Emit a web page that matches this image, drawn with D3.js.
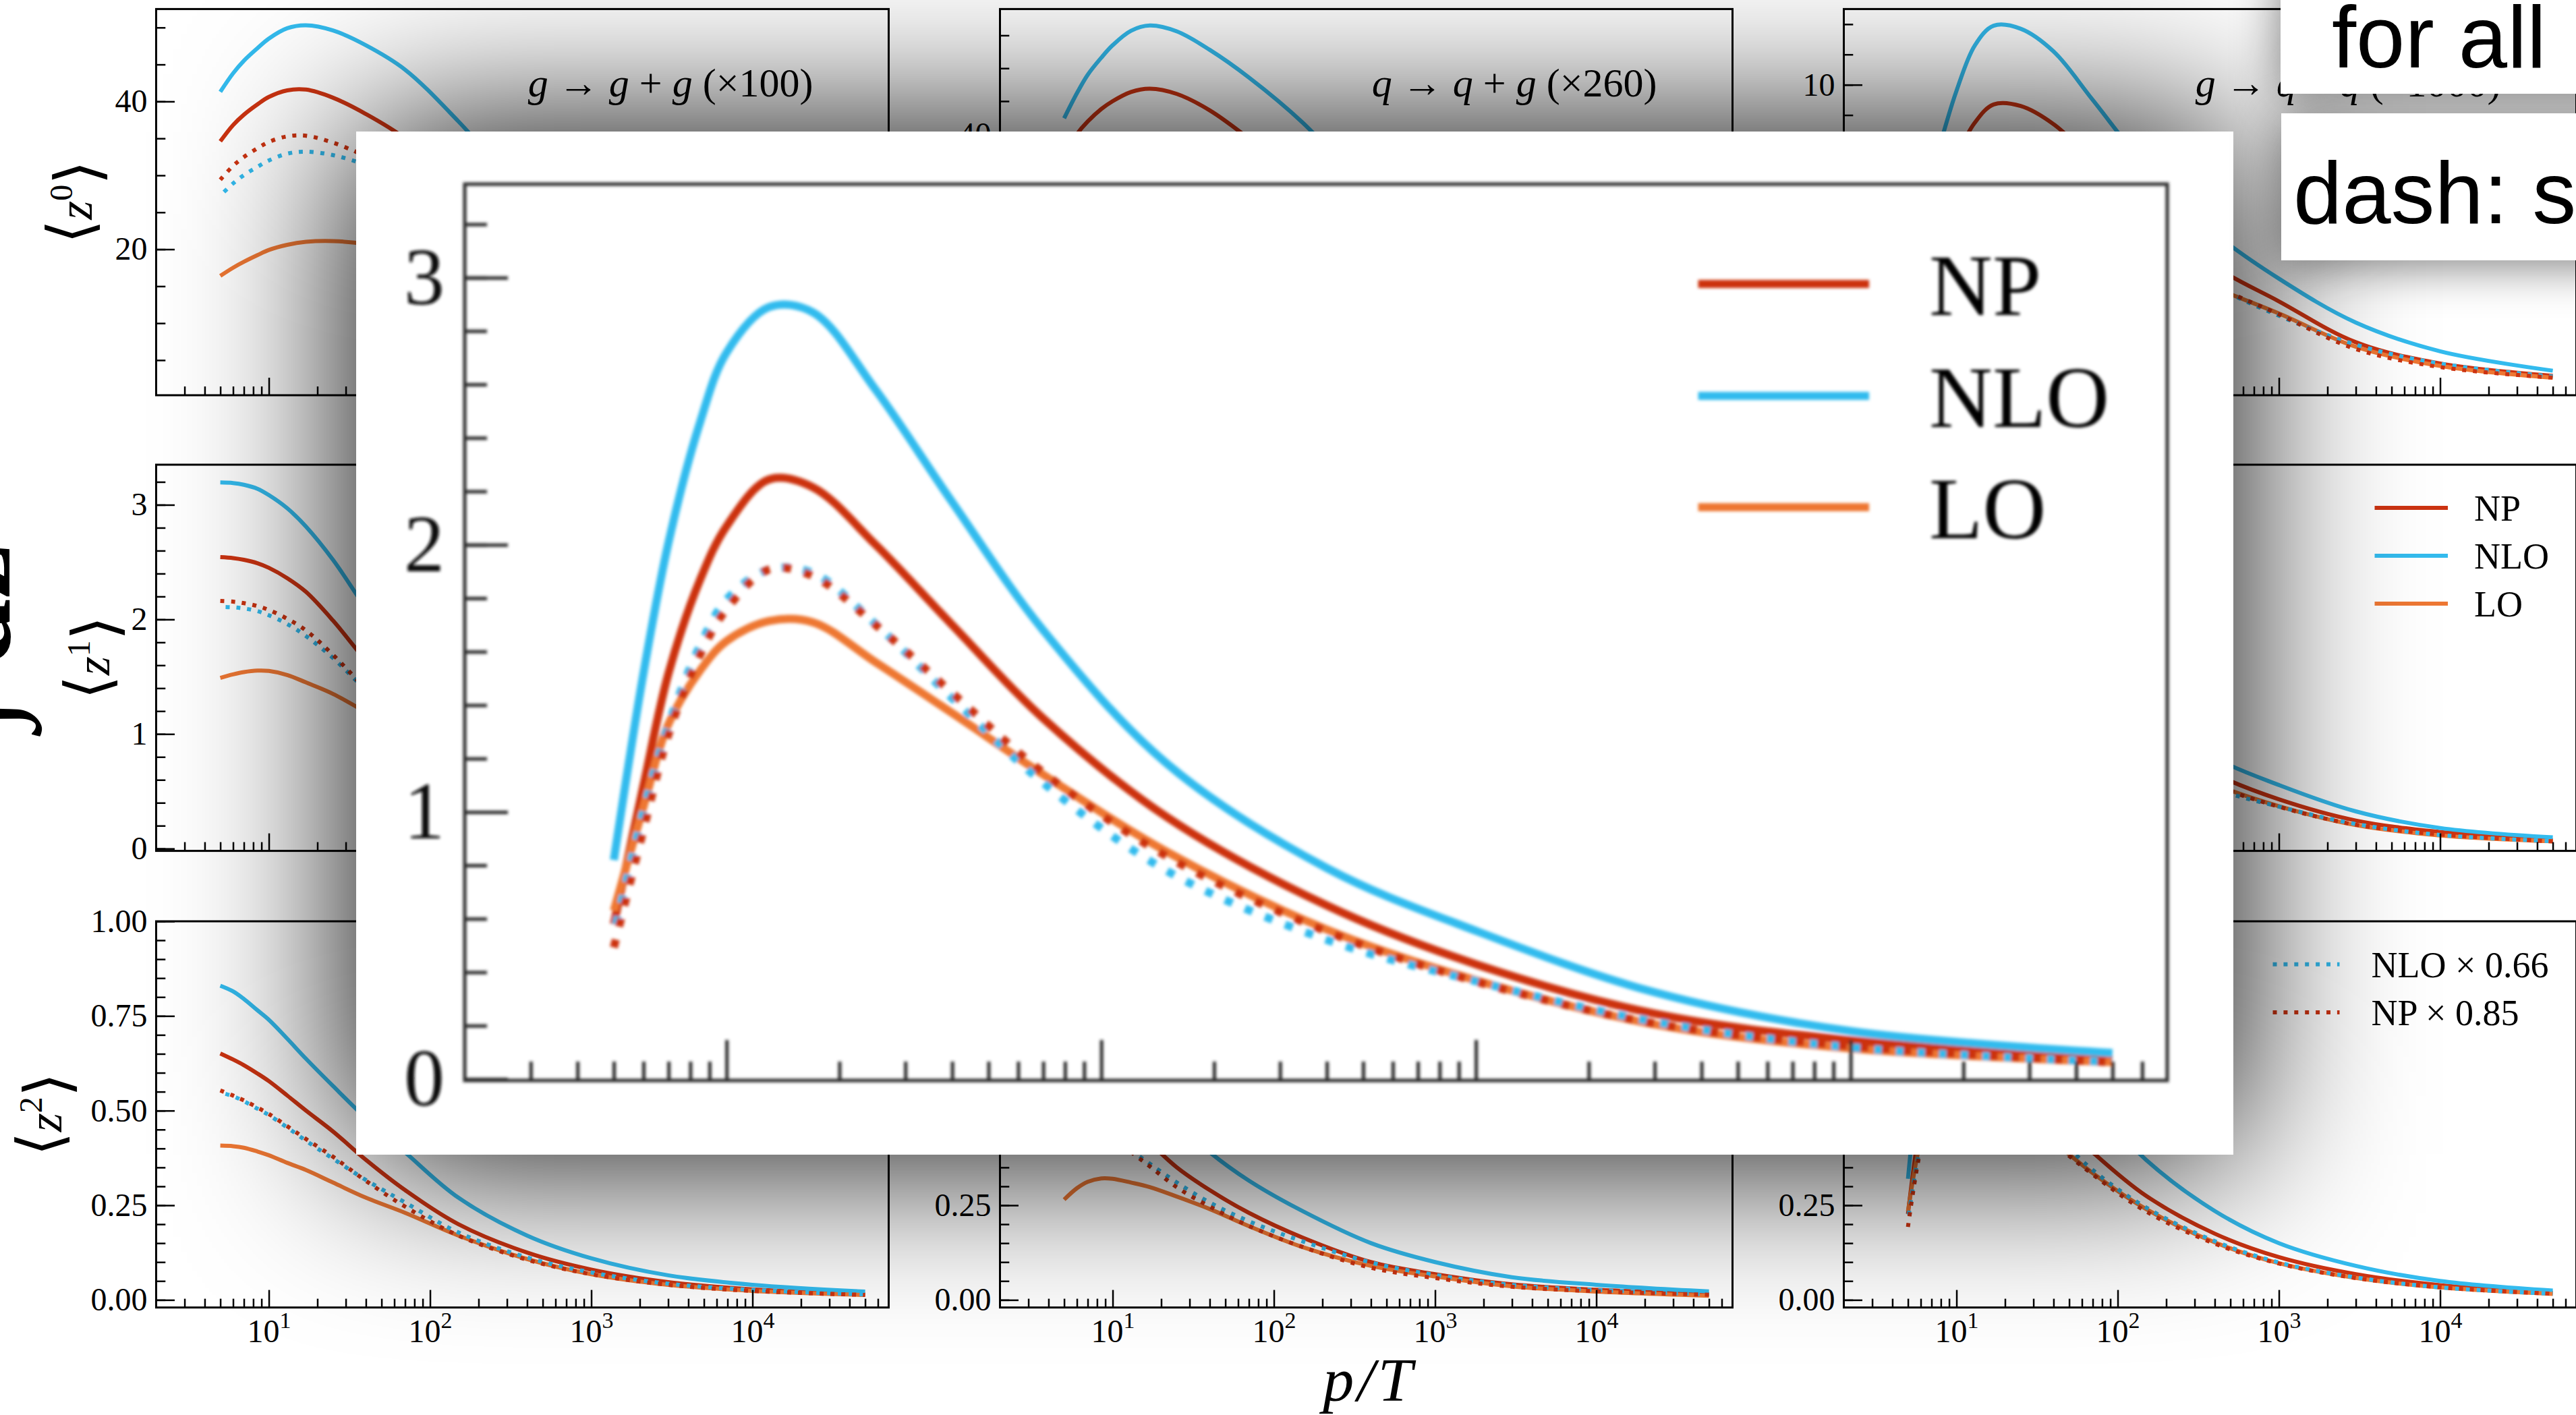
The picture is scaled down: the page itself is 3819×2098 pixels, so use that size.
<!DOCTYPE html>
<html lang="en">
<head>
<meta charset="utf-8">
<title>Splitting moments vs p/T</title>
<script src="https://cdn.jsdelivr.net/npm/d3@7"></script>
<style>
  html, body { margin: 0; padding: 0; background: #fff; }
  svg { display: block; }
  text { white-space: pre; }
</style>
</head>
<body>
<div id="chart"></div>
<script>

// momentum grid shared by every curve (p/T)
var pT = [5, 6, 7, 8.5, 10, 13, 17, 25, 40, 70, 150, 400, 1000, 3000, 10000, 50000];

// <z^0>
var gg_z0_np  = [34.6, 36.8, 38.2, 39.6, 40.6, 41.5, 41.6, 40.5, 38.3, 35.0, 28.5, 19.5, 13.5, 7.8, 4.2, 1.45];
var gg_z0_nlo = [41.3, 43.8, 45.5, 47.2, 48.5, 49.9, 50.3, 49.6, 47.6, 44.3, 37.3, 27.0, 19.0, 11.0, 5.8, 1.9];
var gg_z0_lo  = [16.4, 17.5, 18.3, 19.2, 19.9, 20.6, 21.0, 21.1, 20.7, 19.6, 17.2, 13.2, 9.9, 6.1, 3.4, 1.25];
var qg_z0_np  = [37.0, 40.0, 41.9, 43.8, 45.0, 46.4, 46.9, 46.1, 43.6, 39.3, 32.5, 23.5, 17.0, 10.0, 5.4, 1.9];
var qg_z0_nlo = [42.4, 46.2, 49.0, 51.6, 53.5, 55.7, 56.5, 55.6, 52.8, 48.6, 41.8, 31.0, 22.5, 13.5, 7.2, 2.5];
var qg_z0_lo  = [20.0, 22.0, 23.2, 24.2, 24.8, 25.3, 25.4, 25.0, 24.0, 22.3, 19.5, 15.0, 11.3, 7.0, 3.9, 1.6];
var qq_z0_np  = [2.3, 3.8, 5.0, 6.5, 7.6, 8.75, 9.35, 9.3, 8.7, 7.5, 5.8, 4.0, 2.85, 1.5, 0.8, 0.39];
var qq_z0_nlo = [3.7, 5.6, 7.0, 8.6, 9.8, 11.3, 11.95, 11.85, 11.1, 9.5, 7.3, 5.1, 3.6, 2.15, 1.2, 0.56];
var qq_z0_lo  = [1.8, 2.9, 3.7, 4.6, 5.2, 5.8, 6.1, 6.1, 5.8, 5.2, 4.3, 3.3, 2.45, 1.35, 0.72, 0.33];

// <z^1>
var gg_z1_np  = [2.543, 2.535, 2.52, 2.49, 2.45, 2.36, 2.24, 1.99, 1.64, 1.26, 0.86, 0.54, 0.34, 0.2, 0.115, 0.06];
var gg_z1_nlo = [3.195, 3.19, 3.175, 3.14, 3.085, 2.97, 2.81, 2.52, 2.1, 1.65, 1.12, 0.66, 0.43, 0.26, 0.15, 0.08];
var gg_z1_lo  = [1.49, 1.52, 1.54, 1.553, 1.55, 1.515, 1.45, 1.35, 1.19, 0.98, 0.72, 0.46, 0.3, 0.18, 0.1, 0.05];
var qg_z1_np  = [2.4, 2.39, 2.37, 2.33, 2.28, 2.18, 2.05, 1.84, 1.55, 1.24, 0.9, 0.55, 0.37, 0.21, 0.12, 0.06];
var qg_z1_nlo = [3.05, 3.03, 3.0, 2.95, 2.89, 2.77, 2.6, 2.32, 1.95, 1.58, 1.13, 0.7, 0.47, 0.28, 0.16, 0.08];
var qg_z1_lo  = [1.15, 1.25, 1.31, 1.35, 1.36, 1.34, 1.3, 1.2, 1.05, 0.88, 0.66, 0.43, 0.3, 0.18, 0.1, 0.05];
var qq_z1_np  = [0.58, 1.10, 1.52, 1.87, 2.07, 2.245, 2.215, 2.0, 1.70, 1.35, 0.98, 0.65, 0.43, 0.245, 0.145, 0.074];
var qq_z1_nlo = [0.82, 1.52, 2.01, 2.46, 2.72, 2.89, 2.87, 2.58, 2.16, 1.68, 1.18, 0.79, 0.555, 0.325, 0.18, 0.098];
var qq_z1_lo  = [0.63, 1.02, 1.33, 1.53, 1.64, 1.715, 1.71, 1.56, 1.37, 1.14, 0.85, 0.56, 0.37, 0.205, 0.115, 0.064];

// <z^2>
var gg_z2_np  = [0.651, 0.635, 0.62, 0.598, 0.578, 0.54, 0.50, 0.445, 0.37, 0.29, 0.20, 0.125, 0.08, 0.047, 0.028, 0.0155];
var gg_z2_nlo = [0.83, 0.815, 0.795, 0.765, 0.74, 0.69, 0.637, 0.565, 0.48, 0.39, 0.27, 0.17, 0.11, 0.065, 0.04, 0.022];
var gg_z2_lo  = [0.4075, 0.406, 0.402, 0.392, 0.382, 0.362, 0.343, 0.31, 0.27, 0.23, 0.17, 0.108, 0.068, 0.04, 0.024, 0.013];
var qg_z2_np  = [0.63, 0.6, 0.575, 0.54, 0.51, 0.46, 0.415, 0.35, 0.29, 0.23, 0.165, 0.1, 0.068, 0.041, 0.027, 0.016];
var qg_z2_nlo = [0.85, 0.81, 0.77, 0.72, 0.67, 0.6, 0.545, 0.47, 0.39, 0.315, 0.235, 0.15, 0.1, 0.06, 0.04, 0.0225];
var qg_z2_lo  = [0.265, 0.295, 0.312, 0.321, 0.32, 0.31, 0.298, 0.273, 0.24, 0.195, 0.14, 0.09, 0.062, 0.036, 0.022, 0.011];
var qq_z2_np  = [0.227, 0.47, 0.58, 0.655, 0.685, 0.695, 0.67, 0.6, 0.49, 0.39, 0.275, 0.175, 0.113, 0.068, 0.039, 0.019];
var qq_z2_nlo = [0.32, 0.62, 0.76, 0.86, 0.9, 0.91, 0.88, 0.8, 0.67, 0.52, 0.37, 0.235, 0.15, 0.09, 0.05, 0.0246];
var qq_z2_lo  = [0.234, 0.42, 0.5, 0.55, 0.57, 0.575, 0.555, 0.505, 0.42, 0.335, 0.24, 0.152, 0.097, 0.058, 0.033, 0.016];

var seriesNames = ["NP", "NLO", "LO"];
var seriesColors = ["#cc3311", "#33bbee", "#ee7733"];
var nloFactor = 0.66, npFactor = 0.85;
var scaledNames = ["NLO \u00d7 0.66", "NP \u00d7 0.85"];

var processes = ["g \u2192 g + g", "q \u2192 q + g", "g \u2192 q + q\u0304"];
var processFactors = ["\u00d7100", "\u00d7260", "\u00d71000"];
var moments = ["0", "1", "2"];
var xMajor = [10, 100, 1000, 10000];

var grid = [
  [[gg_z0_np, gg_z0_nlo, gg_z0_lo], [qg_z0_np, qg_z0_nlo, qg_z0_lo], [qq_z0_np, qq_z0_nlo, qq_z0_lo]],
  [[gg_z1_np, gg_z1_nlo, gg_z1_lo], [qg_z1_np, qg_z1_nlo, qg_z1_lo], [qq_z1_np, qq_z1_nlo, qq_z1_lo]],
  [[gg_z2_np, gg_z2_nlo, gg_z2_lo], [qg_z2_np, qg_z2_nlo, qg_z2_lo], [qq_z2_np, qq_z2_nlo, qq_z2_lo]]
];

// per-panel y axis: [domain, major step, minor step, format]
var yAxes = [
  [[[0.25, 52.5], 20, 5, "d"], [[0.3, 59.0], 20, 5, "d"], [[-0.25, 12.5], 5, 1, "d"]],
  [[[-0.02, 3.35], 1, 0.2, "d"], [[-0.02, 3.35], 1, 0.2, "d"], [[-0.02, 3.35], 1, 0.2, "d"]],
  [[[-0.02, 1.0], 0.25, 0.05, ".2f"], [[-0.02, 1.0], 0.25, 0.05, ".2f"], [[-0.02, 1.0], 0.25, 0.05, ".2f"]]
];

var W = 3819, H = 2098;
var panelLeft = [231.5, 1482.5, 2733.5];
var panelTop = [13.4, 689, 1366];
var plotW = 1086, plotH = 572.6;
var xDomain = [2, 70000];
var serif = "'Liberation Serif', 'DejaVu Serif', serif";
var sans = "'Liberation Sans', Arial, sans-serif";

var minorX = [];
for (var k = 0; k <= 4; k++) {
  for (var m = 2; m <= 9; m++) {
    var v = m * Math.pow(10, k);
    if (v > xDomain[0] && v < xDomain[1]) minorX.push(v);
  }
}

function stepTicks(domain, step) {
  var out = [];
  var start = Math.ceil(domain[0] / step - 1e-9);
  for (var i = start; i * step <= domain[1] + 1e-9; i++) out.push(+(i * step).toFixed(6));
  return out;
}

function seriesPoints(arr, f) {
  return pT.map(function(p, i) { return [p, arr[i] * (f || 1)]; });
}

var svg = d3.select("#chart").append("svg")
  .attr("width", W).attr("height", H)
  .attr("viewBox", "0 0 " + W + " " + H);

svg.append("rect").attr("width", W).attr("height", H).attr("fill", "#fff");

var defs = svg.append("defs");
defs.append("filter").attr("id", "insetShadow")
  .attr("x", "-40%").attr("y", "-50%").attr("width", "180%").attr("height", "200%")
  .append("feGaussianBlur").attr("stdDeviation", 130);
defs.append("filter").attr("id", "boxShadow")
  .attr("x", "-50%").attr("y", "-50%").attr("width", "200%").attr("height", "200%")
  .append("feGaussianBlur").attr("stdDeviation", 35);
defs.append("filter").attr("id", "soft")
  .append("feGaussianBlur").attr("stdDeviation", 2.2);

// draw the five curves of one panel
function drawCurves(g, arrs, x, y, lw, dots) {
  var line = d3.line()
    .x(function(d) { return x(d[0]); })
    .y(function(d) { return y(d[1]); })
    .curve(d3.curveCatmullRom.alpha(0.5));
  arrs.forEach(function(arr, i) {
    g.append("path").attr("d", line(seriesPoints(arr)))
      .attr("fill", "none").attr("stroke", seriesColors[i]).attr("stroke-width", lw);
  });
  g.append("path").attr("d", line(seriesPoints(arrs[1], nloFactor)))
    .attr("fill", "none").attr("stroke", seriesColors[1]).attr("stroke-width", lw)
    .attr("stroke-dasharray", dots).attr("stroke-dashoffset", lw * 1.35);
  g.append("path").attr("d", line(seriesPoints(arrs[0], npFactor)))
    .attr("fill", "none").attr("stroke", seriesColors[0]).attr("stroke-width", lw)
    .attr("stroke-dasharray", dots);
}

function drawPanel(r, c) {
  var cfg = yAxes[r][c];
  var g = svg.append("g").attr("transform", "translate(" + panelLeft[c] + "," + panelTop[r] + ")");
  var x = d3.scaleLog().domain(xDomain).range([0, plotW]);
  var y = d3.scaleLinear().domain(cfg[0]).range([plotH, 0]);

  var clipId = "clip-" + r + "-" + c;
  defs.append("clipPath").attr("id", clipId)
    .append("rect").attr("width", plotW).attr("height", plotH);

  drawCurves(g.append("g").attr("clip-path", "url(#" + clipId + ")"), grid[r][c], x, y, 6, "6 10");

  // inward ticks, left and bottom only
  var yl = g.append("g")
    .call(d3.axisLeft(y).tickValues(stepTicks(cfg[0], cfg[2])).tickSize(-13.8).tickSizeOuter(0).tickFormat(""));
  var yL = g.append("g")
    .call(d3.axisLeft(y).tickValues(stepTicks(cfg[0], cfg[1])).tickSize(-27.5).tickSizeOuter(0).tickPadding(13)
      .tickFormat(d3.format(cfg[3])));
  var xl = g.append("g").attr("transform", "translate(0," + plotH + ")")
    .call(d3.axisBottom(x).tickValues(minorX).tickSize(-13).tickSizeOuter(0).tickFormat(""));
  var xL = g.append("g").attr("transform", "translate(0," + plotH + ")")
    .call(d3.axisBottom(x).tickValues(xMajor).tickSize(-26).tickSizeOuter(0).tickPadding(17)
      .tickFormat(r === 2 ? function(d) { return d; } : ""));

  [yl, yL, xl, xL].forEach(function(a) {
    a.select(".domain").remove();
    a.selectAll(".tick line").attr("stroke", "#000").attr("stroke-width", 2.5);
    a.selectAll(".tick text").attr("fill", "#000").attr("font-family", serif).attr("font-size", 48);
  });

  if (r === 2) {
    xL.selectAll(".tick text").each(function(d) {
      var t = d3.select(this);
      t.text(null);
      t.append("tspan").text("10");
      t.append("tspan").attr("dy", "-0.62em").attr("font-size", 34).text(Math.round(Math.log10(d)));
    });
  }

  g.append("rect").attr("width", plotW).attr("height", plotH)
    .attr("fill", "none").attr("stroke", "#000").attr("stroke-width", 3);

  if (r === 0) {
    var t = g.append("text").attr("x", plotW - 112).attr("y", 130)
      .attr("text-anchor", "end").attr("font-family", serif).attr("font-size", 60);
    processes[c].split(" ").forEach(function(tok, i) {
      t.append("tspan").attr("font-style", /^[a-z]/.test(tok) ? "italic" : "normal")
        .text((i ? " " : "") + tok);
    });
    t.append("tspan").text(" (" + processFactors[c] + ")");
  }
  return g;
}

var panels = [];
for (var r = 0; r < 3; r++) {
  panels.push([]);
  for (var c = 0; c < 3; c++) panels[r].push(drawPanel(r, c));
}

// legends on the right column
function legend(g, names, colors, dashed, x0, x1, tx, ys, fs, lw) {
  names.forEach(function(name, i) {
    g.append("line").attr("x1", x0).attr("x2", x1).attr("y1", ys[i]).attr("y2", ys[i])
      .attr("stroke", colors[i]).attr("stroke-width", lw)
      .attr("stroke-dasharray", dashed ? (lw + " " + lw * 1.65) : null);
    g.append("text").attr("x", tx).attr("y", ys[i]).attr("dy", "0.35em")
      .attr("font-family", serif).attr("font-size", fs).attr("fill", "#000").text(name);
  });
}
legend(panels[1][2], seriesNames, seriesColors, false, 787, 895.5, 934.5, [64, 135, 206], 54, 6);
legend(panels[2][2], scaledNames, [seriesColors[1], seriesColors[0]], true, 636, 735, 782, [63.8, 135], 54, 6);

// row labels <z^n>
var ylabX = [112, 138, 67];
moments.forEach(function(n, r) {
  var cy = panelTop[r] + plotH / 2;
  var t = svg.append("text")
    .attr("transform", "translate(" + ylabX[r] + "," + cy + ") rotate(-90)")
    .attr("text-anchor", "middle").attr("dy", "0.33em")
    .attr("font-family", serif + ", 'DejaVu Sans'").attr("font-size", 72).attr("fill", "#000");
  t.append("tspan").attr("font-family", "'DejaVu Sans'").attr("font-size", 92).text("\u27e8");
  t.append("tspan").attr("font-style", "italic").text("z");
  t.append("tspan").attr("dy", "-0.6em").attr("font-size", 48).text(n);
  t.append("tspan").attr("dy", "0.43em").attr("font-family", "'DejaVu Sans'").attr("font-size", 92).text("\u27e9");
});

svg.append("text").attr("x", 2030).attr("y", 2077)
  .attr("text-anchor", "middle").attr("font-family", serif).attr("font-size", 92)
  .attr("font-style", "italic").attr("letter-spacing", 5).attr("fill", "#000").text("p/T");

svg.append("text")
  .attr("transform", "translate(14,945) rotate(-90)")
  .attr("text-anchor", "middle").attr("font-family", serif).attr("font-size", 180)
  .attr("font-weight", "bold").attr("fill", "#000").text("\u222b dz");

// magnified <z^1> panel for g -> q + qbar
var box = { x: 528, y: 195, w: 2783, h: 1517 };
var ip = { x: 689, y: 273, w: 2524, h: 1329 };

svg.append("rect").attr("x", box.x).attr("y", box.y).attr("width", box.w).attr("height", box.h)
  .attr("fill", "#000").attr("filter", "url(#insetShadow)");
svg.append("rect").attr("x", box.x).attr("y", box.y).attr("width", box.w).attr("height", box.h)
  .attr("fill", "#fff");

var inset = svg.append("g").attr("filter", "url(#soft)")
  .append("g").attr("transform", "translate(" + ip.x + "," + ip.y + ")");
var ix = d3.scaleLog().domain(xDomain).range([0, ip.w]);
var iy = d3.scaleLinear().domain([-0.005, 3.35]).range([ip.h, 0]);

drawCurves(inset, grid[1][2], ix, iy, 12, "12 20");

var iyMinor = inset.append("g").call(d3.axisLeft(iy).tickValues(stepTicks([0, 3.35], 0.2))
  .tickSize(-33).tickSizeOuter(0).tickFormat(""));
var iyMajor = inset.append("g").call(d3.axisLeft(iy).tickValues([0, 1, 2, 3])
  .tickSize(-64).tickSizeOuter(0).tickPadding(30).tickFormat(d3.format("d")));
var ixMinor = inset.append("g").attr("transform", "translate(0," + ip.h + ")")
  .call(d3.axisBottom(ix).tickValues(minorX).tickSize(-28).tickSizeOuter(0).tickFormat(""));
var ixMajor = inset.append("g").attr("transform", "translate(0," + ip.h + ")")
  .call(d3.axisBottom(ix).tickValues(xMajor).tickSize(-60).tickSizeOuter(0).tickFormat(""));
[iyMinor, iyMajor, ixMinor, ixMajor].forEach(function(a) {
  a.select(".domain").remove();
  a.selectAll(".tick line").attr("stroke", "#2a2a2a").attr("stroke-width", 5);
  a.selectAll(".tick text").attr("fill", "#111").attr("font-family", serif).attr("font-size", 120);
});
inset.append("rect").attr("width", ip.w).attr("height", ip.h)
  .attr("fill", "none").attr("stroke", "#2a2a2a").attr("stroke-width", 5);

legend(inset, seriesNames, seriesColors, false, 2517.6 - ip.x, 2771 - ip.x, 2860 - ip.x,
  [421 - ip.y, 587 - ip.y, 752 - ip.y], 130, 12);

// note boxes in the upper right corner
var notes = [
  { x: 3381, y: -60, w: 520, h: 199, text: "for all", tx: 3457, ty: 100 },
  { x: 3382, y: 168, w: 520, h: 218, text: "dash: s", tx: 3400, ty: 331 }
];
notes.forEach(function(n) {
  svg.append("rect").attr("x", n.x).attr("y", n.y + 8).attr("width", n.w).attr("height", n.h)
    .attr("fill", "#000").attr("opacity", 0.5).attr("filter", "url(#boxShadow)");
});
notes.forEach(function(n) {
  svg.append("rect").attr("x", n.x).attr("y", n.y).attr("width", n.w).attr("height", n.h).attr("fill", "#fff");
  svg.append("text").attr("x", n.tx).attr("y", n.ty).attr("font-family", sans)
    .attr("font-size", 130).attr("fill", "#000").text(n.text);
});

</script>
</body>
</html>
